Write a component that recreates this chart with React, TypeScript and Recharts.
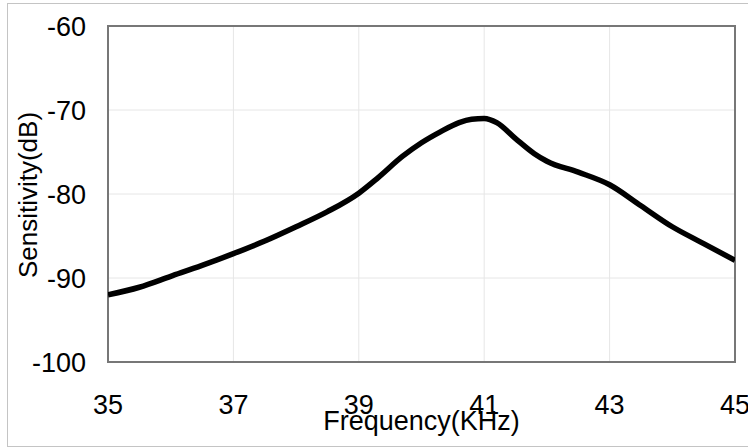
import React from 'react';
import { LineChart, Line, XAxis, YAxis, CartesianGrid, ReferenceArea, Label } from 'recharts';

const frequencies = [35, 35.5, 36, 36.5, 37, 37.5, 38, 38.5, 39, 39.3, 39.7, 40, 40.3, 40.6, 40.8, 41, 41.2, 41.5, 41.8, 42, 42.5, 43, 43.5, 44, 44.5, 45];
const sensitivities = [-92.0, -91.1, -89.8, -88.5, -87.1, -85.6, -83.9, -82.1, -79.9, -78.1, -75.5, -73.9, -72.6, -71.5, -71.1, -71.0, -71.5, -73.4, -75.2, -76.1, -77.4, -78.9, -81.4, -83.9, -85.9, -87.9];
const xTicks = [35, 37, 39, 41, 43, 45];
const yTicks = [-100, -90, -80, -70, -60];
const xTitle = 'Frequency(KHz)';
const yTitle = 'Sensitivity(dB)';

const data = frequencies.map((f, i) => ({ f, s: sensitivities[i] }));

const FONT = '"Liberation Sans", Arial, Helvetica, sans-serif';

const XTitle = (props: any) => {
  const vb = props.viewBox || { x: 108, width: 627 };
  return (
    <text x={vb.x + vb.width / 2} y={430} textAnchor="middle" fill="#000" fontSize={27} fontFamily={FONT}>
      {xTitle}
    </text>
  );
};

const YTitle = (props: any) => {
  const vb = props.viewBox || { y: 26, height: 336 };
  const cy = vb.y + vb.height / 2 + 1;
  const cx = 37;
  return (
    <text x={cx} y={cy} transform={`rotate(-90, ${cx}, ${cy})`} textAnchor="middle" fill="#000" fontSize={26} fontFamily={FONT}>
      {yTitle}
    </text>
  );
};

export default function App() {
  return (
    <div style={{ position: 'absolute', left: 0, top: 0, width: 748, height: 448, overflow: 'hidden', background: '#fff' }}>
      <div style={{ position: 'absolute', left: 7, top: 3, width: 800, height: 442, border: '1px solid #c4c4c4' }} />
      <div style={{ position: 'absolute', left: 0, top: 0 }}>
        <LineChart width={748} height={448} data={data} margin={{ top: 26, right: 13, bottom: 26, left: 8 }}>
          <CartesianGrid stroke="#e6e6e6" strokeWidth={1} />
          <XAxis
            dataKey="f"
            type="number"
            domain={[35, 45]}
            ticks={xTicks}
            interval={0}
            allowDataOverflow
            tickLine={false}
            axisLine={false}
            tickSize={0}
            tickMargin={33}
            height={60}
            tick={{ fill: '#000', fontSize: 27, fontFamily: FONT }}
          >
            <Label content={<XTitle />} />
          </XAxis>
          <YAxis
            type="number"
            domain={[-100, -60]}
            ticks={yTicks}
            interval={0}
            allowDataOverflow
            tickLine={false}
            axisLine={false}
            tickSize={0}
            tickMargin={22}
            width={100}
            tick={{ fill: '#000', fontSize: 27, fontFamily: FONT }}
          >
            <Label content={<YTitle />} />
          </YAxis>
          <ReferenceArea x1={35} x2={45} y1={-100} y2={-60} fill="none" stroke="#777" strokeWidth={2} fillOpacity={0} />
          <Line
            type="monotone"
            dataKey="s"
            stroke="#000"
            strokeWidth={5.5}
            dot={false}
            activeDot={false}
            isAnimationActive={false}
          />
        </LineChart>
      </div>
    </div>
  );
}
